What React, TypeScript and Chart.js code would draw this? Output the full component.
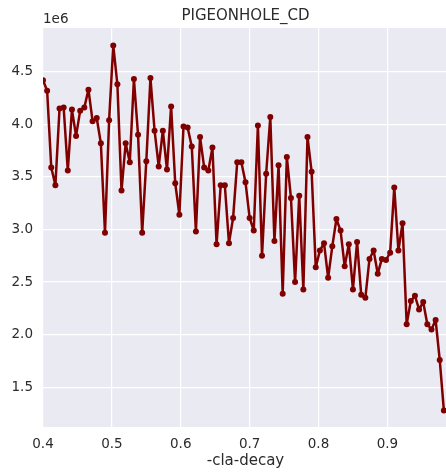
import React, { useEffect, useRef } from "react";
import { Chart, registerables } from "chart.js";

Chart.register(...registerables);

const chartTitle = "PIGEONHOLE_CD";
const xAxisLabel = "-cla-decay";
const yExponentLabel = "1e6";

const xValues = [
  0.4, 0.406, 0.412, 0.418, 0.424, 0.43, 0.436, 0.442, 0.448, 0.454,
  0.46, 0.466, 0.472, 0.478, 0.484, 0.49, 0.496, 0.502, 0.508, 0.514,
  0.52, 0.526, 0.532, 0.538, 0.544, 0.55, 0.556, 0.562, 0.568, 0.574,
  0.58, 0.586, 0.592, 0.598, 0.604, 0.61, 0.616, 0.622, 0.628, 0.634,
  0.64, 0.646, 0.652, 0.658, 0.664, 0.67, 0.676, 0.682, 0.688, 0.694,
  0.7, 0.706, 0.712, 0.718, 0.724, 0.73, 0.736, 0.742, 0.748, 0.754,
  0.76, 0.766, 0.772, 0.778, 0.784, 0.79, 0.796, 0.802, 0.808, 0.814,
  0.82, 0.826, 0.832, 0.838, 0.844, 0.85, 0.856, 0.862, 0.868, 0.874,
  0.88, 0.886, 0.892, 0.898, 0.904, 0.91, 0.916, 0.922, 0.928, 0.934,
  0.94, 0.946, 0.952, 0.958, 0.964, 0.97, 0.976, 0.982,
];

// values in units of 1e6
const seriesMillions = [
  4.42, 4.32, 3.59, 3.42, 4.15, 4.16, 3.56, 4.14, 3.89, 4.13,
  4.16, 4.33, 4.03, 4.06, 3.82, 2.97, 4.04, 4.75, 4.38, 3.37,
  3.82, 3.64, 4.43, 3.9, 2.97, 3.65, 4.44, 3.94, 3.6, 3.94,
  3.57, 4.17, 3.44, 3.14, 3.98, 3.97, 3.79, 2.98, 3.88, 3.59,
  3.56, 3.78, 2.86, 3.42, 3.42, 2.87, 3.11, 3.64, 3.64, 3.45,
  3.11, 2.99, 3.99, 2.75, 3.53, 4.07, 2.89, 3.61, 2.39, 3.69,
  3.3, 2.5, 3.32, 2.43, 3.88, 3.55, 2.64, 2.8, 2.87, 2.54,
  2.84, 3.1, 2.99, 2.65, 2.86, 2.43, 2.88, 2.38, 2.35, 2.72,
  2.8, 2.58, 2.72, 2.71, 2.78, 3.4, 2.8, 3.06, 2.1, 2.32,
  2.37, 2.24, 2.31, 2.1, 2.05, 2.14, 1.76, 1.28,
];

const xTicks = [0.4, 0.5, 0.6, 0.7, 0.8, 0.9];
const yTicksMillions = [1.5, 2.0, 2.5, 3.0, 3.5, 4.0, 4.5];

const FONT = "'DejaVu Sans', sans-serif";
const TEXT = "#2b2b2b";

export default function App() {
  const ref = useRef<HTMLCanvasElement | null>(null);

  useEffect(() => {
    if (!ref.current) return;
    const textPlugin = {
      id: "texts",
      afterDraw(chart: any) {
        const { ctx, chartArea } = chart;
        ctx.save();
        ctx.fillStyle = TEXT;
        ctx.font = `15px ${FONT}`;
        ctx.textAlign = "center";
        ctx.textBaseline = "middle";
        ctx.fillText(chartTitle, (chartArea.left + chartArea.right) / 2, 16.5);
        ctx.fillText(xAxisLabel, (chartArea.left + chartArea.right) / 2, 461.5);
        ctx.font = `13.5px ${FONT}`;
        ctx.textAlign = "left";
        ctx.fillText(yExponentLabel, chartArea.left, 19.5);
        ctx.restore();
      },
    };
    const chart = new Chart(ref.current, {
      type: "line",
      data: {
        datasets: [
          {
            data: xValues.map((x, i) => ({ x, y: seriesMillions[i] * 1e6 })),
            borderColor: "#800000",
            backgroundColor: "#800000",
            borderWidth: 2.5,
            borderJoinStyle: "round",
            borderCapStyle: "round",
            pointRadius: 3,
            pointBorderWidth: 0,
            pointBackgroundColor: "#800000",
            tension: 0,
          },
        ],
      },
      options: {
        responsive: false,
        animation: false,
        layout: { padding: { top: 28, right: 3.3, left: 0, bottom: 0 } },
        plugins: {
          legend: { display: false },
          title: { display: false },
          tooltip: { enabled: false },
        },
        scales: {
          x: {
            type: "linear",
            min: 0.4,
            max: 0.988,
            afterBuildTicks: (scale: any) => {
              scale.ticks = xTicks.map((v) => ({ value: v }));
            },
            afterFit: (scale: any) => {
              scale.height = 47;
            },
            grid: { color: "#ffffff", lineWidth: 1.2, drawTicks: false },
            border: { display: false },
            ticks: {
              padding: 9,
              color: TEXT,
              font: { family: FONT, size: 13.5 },
              maxRotation: 0,
              autoSkip: false,
              callback: (v: any) => Number(v).toFixed(1),
            },
          },
          y: {
            type: "linear",
            min: 1.122e6,
            max: 4.916e6,
            afterBuildTicks: (scale: any) => {
              scale.ticks = yTicksMillions.map((v) => ({ value: v * 1e6 }));
            },
            afterFit: (scale: any) => {
              scale.width = 43;
            },
            grid: { color: "#ffffff", lineWidth: 1.2, drawTicks: false },
            border: { display: false },
            ticks: {
              padding: 10,
              color: TEXT,
              font: { family: FONT, size: 13.5 },
              autoSkip: false,
              callback: (v: any) => (Number(v) / 1e6).toFixed(1),
            },
          },
        },
      },
      plugins: [
        {
          id: "bg",
          beforeDraw(chart: any) {
            const { ctx, chartArea } = chart;
            ctx.save();
            ctx.fillStyle = "#EAEAF2";
            ctx.fillRect(
              chartArea.left,
              chartArea.top,
              chartArea.right - chartArea.left,
              chartArea.bottom - chartArea.top
            );
            ctx.restore();
          },
        },
        textPlugin,
      ],
    });
    return () => chart.destroy();
  }, []);

  return (
    <div
      style={{
        position: "fixed",
        left: 0,
        top: 0,
        width: 446,
        height: 474,
        overflow: "hidden",
        background: "#ffffff",
      }}
    >
      <canvas ref={ref} width={452} height={474} style={{ display: "block" }} />
    </div>
  );
}
